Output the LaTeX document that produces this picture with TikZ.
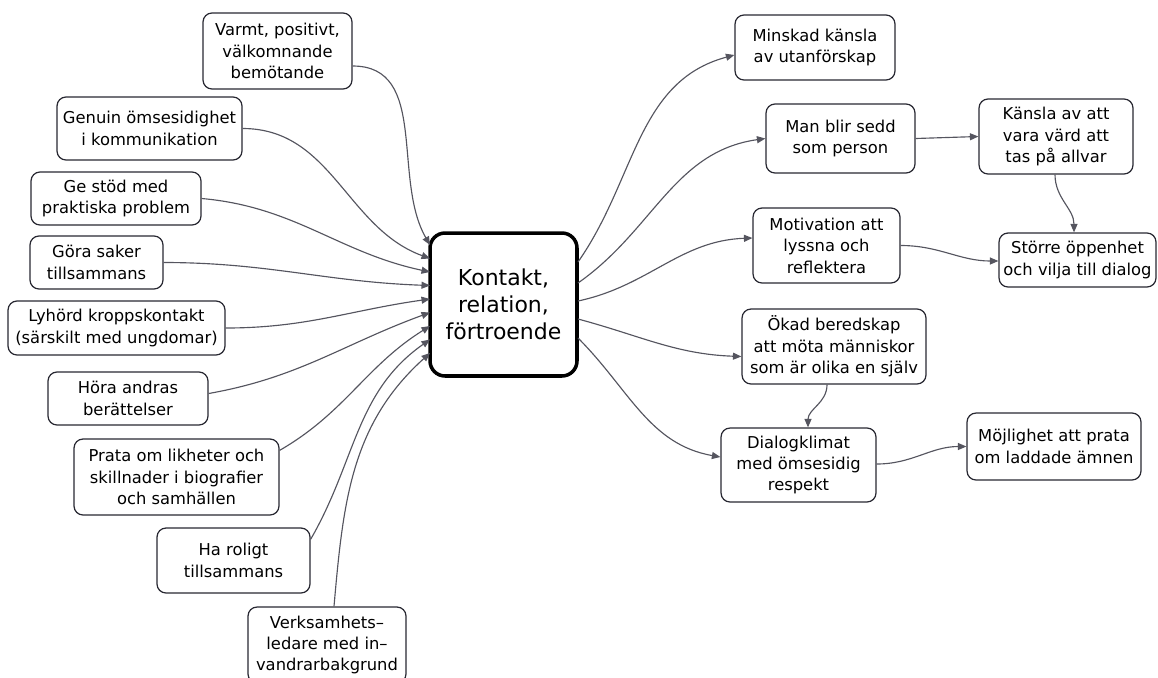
\documentclass[tikz,border=0pt]{standalone}
\usepackage{fontspec}
\setmainfont{DejaVu Sans}
\usetikzlibrary{arrows.meta}
\definecolor{boxline}{RGB}{40,40,50}
\definecolor{linkgray}{RGB}{85,85,95}

\begin{document}
\begin{tikzpicture}[
  x=0.02cm, y=0.02cm,
  idea/.style={draw=boxline, line width=0.7pt, rounded corners=0.18cm, fill=white,
               align=center, inner sep=0pt, font=\fontsize{9.3}{12.2}\selectfont},
  core/.style={draw=black, line width=2pt, rounded corners=0.3cm, fill=white,
               align=center, inner sep=0pt, minimum width=2.94cm, minimum height=2.86cm,
               font=\fontsize{12.5}{15.5}\selectfont},
  link/.style={-{Triangle[length=0.17cm,width=0.14cm]}, line width=0.65pt, linkgray},
]
\useasboundingbox (0,0) rectangle (1158,-677);

\node[core] (core) at (503.5,-304.5) {Kontakt,\\relation,\\förtroende};

%% Left side: what builds the contact
\node[idea, minimum width=2.98cm, minimum height=1.52cm] (warm) at (277.5,-51) {Varmt, positivt,\\välkomnande\\bemötande};
\node[idea, minimum width=3.7cm, minimum height=1.26cm] (mutual) at (149.5,-128.5) {Genuin ömsesidighet\\i kommunikation};
\node[idea, minimum width=3.4cm, minimum height=1.06cm] (support) at (116,-198.5) {Ge stöd med\\praktiska problem};
\node[idea, minimum width=2.66cm, minimum height=1.06cm] (together) at (96.5,-262.5) {Göra saker\\tillsammans};
\node[idea, minimum width=4.34cm, minimum height=1.08cm] (touch) at (116.5,-328) {Lyhörd kroppskontakt\\(särskilt med ungdomar)};
\node[idea, minimum width=3.2cm, minimum height=1.06cm] (stories) at (128,-398.5) {Höra andras\\berättelser};
\node[idea, minimum width=4.1cm, minimum height=1.52cm] (likeness) at (176.5,-477) {Prata om likheter och\\skillnader i biografier\\och samhällen};
\node[idea, minimum width=3.06cm, minimum height=1.3cm] (fun) at (233.5,-560.5) {Ha roligt\\tillsammans};
\node[idea, minimum width=3.16cm, minimum height=1.52cm] (leader) at (327,-645) {Verksamhets–\\ledare med in–\\vandrarbakgrund};

%% Right side: what the contact leads to
\node[idea, minimum width=3.2cm, minimum height=1.3cm] (outside) at (815,-47.5) {Minskad känsla\\av utanförskap};
\node[idea, minimum width=2.98cm, minimum height=1.38cm] (seen) at (840.5,-138.5) {Man blir sedd\\som person};
\node[idea, minimum width=3.08cm, minimum height=1.5cm] (worthy) at (1056,-136.5) {Känsla av att\\vara värd att\\tas på allvar};
\node[idea, minimum width=2.94cm, minimum height=1.5cm] (listen) at (826.5,-245.5) {Motivation att\\lyssna och\\reflektera};
\node[idea, minimum width=3.14cm, minimum height=1.08cm] (open) at (1077.5,-260) {Större öppenhet\\och vilja till dialog};
\node[idea, minimum width=3.68cm, minimum height=1.5cm] (ready) at (834,-346.5) {Ökad beredskap\\att möta människor\\som är olika en själv};
\node[idea, minimum width=3.1cm, minimum height=1.48cm] (climate) at (798.5,-465) {Dialogklimat\\med ömsesidig\\respekt};
\node[idea, minimum width=3.48cm, minimum height=1.34cm] (charged) at (1054,-446.5) {Möjlighet att prata\\om laddade ämnen};

%% Ports on the core box
\foreach \i in {1,...,9}
  \coordinate (in\i) at (430,{-245-(\i-1)*13.5});
\coordinate (out1) at (578,-262);
\coordinate (out2) at (578,-283);
\coordinate (out3) at (578,-301);
\coordinate (out4) at (578,-319);
\coordinate (out5) at (578,-338);

%% Incoming links
\draw[link] ([yshift=-0.3cm]warm.east) to[out=0, in=120] (in1);
\draw[link] (mutual.east) to[out=0, in=160] (in2);
\draw[link] (support.east) to[out=-5, in=168] (in3);
\draw[link] (together.east) to[out=0, in=178] (in4);
\draw[link] (touch.east) to[out=0, in=188] (in5);
\draw[link] ([yshift=0.1cm]stories.east) to[out=10, in=200] (in6);
\draw[link] ([yshift=-0.24cm]likeness.north east) to[out=30, in=212] (in7);
\draw[link] ([yshift=-0.24cm]fun.north east) to[out=60, in=215] (in8);
\draw[link] ([xshift=0.14cm]leader.north) to[out=85, in=222] (in9);

%% Outgoing links
\draw[link] (out1) to[out=55, in=195] ([yshift=-0.15cm]outside.west);
\draw[link] (out2) to[out=35, in=188] (seen.west);
\draw[link] (out3) to[out=12, in=182] ([yshift=0.15cm]listen.west);
\draw[link] (out4) to[out=-15, in=178] ([yshift=-0.2cm]ready.west);
\draw[link] (out5) to[out=-45, in=170] ([yshift=0.16cm]climate.west);
\draw[link] (seen.east) -- (worthy.west);
\draw[link] (listen.east) to[out=0, in=180] ([yshift=-0.02cm]open.west);
\draw[link] ([xshift=-0.02cm]worthy.south) to[out=-90, in=90] ([xshift=-0.07cm]open.north);
\draw[link] ([xshift=-0.14cm]ready.south) to[out=-90, in=90] ([xshift=0.19cm]climate.north);
\draw[link] ([yshift=0.02cm]climate.east) to[out=0, in=180] (charged.west);

\end{tikzpicture}
\end{document}
